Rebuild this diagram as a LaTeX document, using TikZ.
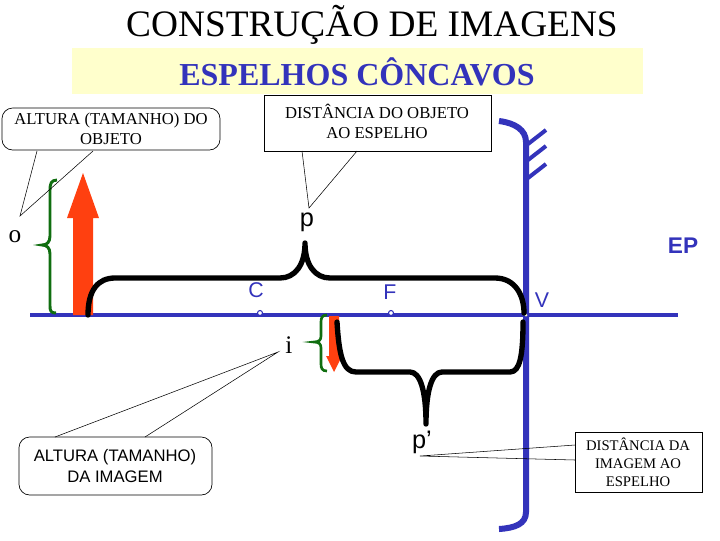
\documentclass[tikz,border=0pt]{standalone}
\usepackage{fontspec}
\setmainfont{Liberation Serif}
\setsansfont{Liberation Sans}
\begin{document}
\begin{tikzpicture}[x=0.75pt,y=-0.75pt,
  callout/.style={draw=black,fill=white,line width=0.5pt},
  ptr/.style={draw=black,line width=0.4pt},
  lbl/.style={text=mblue,font=\sffamily\fontsize{16}{16}\selectfont}]
\definecolor{mblue}{RGB}{51,51,187}
\definecolor{mred}{RGB}{255,64,16}
\definecolor{mgreen}{RGB}{16,110,16}
\definecolor{myel}{RGB}{255,255,204}
\useasboundingbox (0,0) rectangle (720,540);
% title
\node (title) at (372,25) {\fontsize{28}{28}\selectfont CONSTRUÇÃO DE IMAGENS};
\fill[myel] (72,48) rectangle (643,94);
\node[text=mblue] (sub) at (357,72) {\fontsize{24}{24}\selectfont\bfseries ESPELHOS CÔNCAVOS};
% axis
\draw[mblue,line width=2.5pt] (30,315) -- (678,315);
% mirror
\draw[mblue,line width=4.5pt] (499,121) .. controls (515,123) and (526,130) .. (526,142) -- (526,512) .. controls (526,524) and (515,528) .. (499,529);
\foreach \y in {144,160,178} \draw[mblue,line width=3pt] (528,\y) -- (546,\y-14);
% labels
\node[lbl,font=\sffamily\bfseries\fontsize{17}{17}\selectfont] (ep) at (683,246) {EP};
\node[lbl] (v) at (542,300) {V};
\node[lbl] (c) at (256,290) {C};
\node[lbl] (f) at (390,292) {F};
\draw[mblue,line width=0.8pt,fill=white] (260,313) circle (2.5);
\draw[mblue,line width=0.8pt,fill=white] (391,313) circle (2.5);
\fill[myel] (526,315) circle (1.5);
% object arrow
\fill[mred] (73,315) -- (73,218) -- (67,218) -- (83,173) -- (99,218) -- (93,218) -- (93,315) -- cycle;
% object green brace
\draw[mgreen,line width=2.2pt] (57,180) .. controls (51,180) and (50,184) .. (50,190) -- (50,236) .. controls (50,242) and (47,245) .. (42,245) .. controls (47,245) and (50,248) .. (50,254) -- (50,306) .. controls (50,311) and (51,313) .. (56,313);
\node (o) at (15,237) {\fontsize{19}{19}\selectfont o};
% p brace
\draw[line width=4pt,line cap=round,line join=round] (88,315) .. controls (88,290) and (98,278) .. (115,278) -- (280,278) .. controls (295,278) and (305,265) .. (305,243) .. controls (305,265) and (315,278) .. (330,278) -- (495,278) .. controls (515,278) and (524,295) .. (524,313);
\node[font=\sffamily\fontsize{19}{19}\selectfont] (p) at (307,222) {p};
% image arrow
\fill[mred] (329,316) -- (339,316) -- (339,356) -- (342,356) -- (334,372) -- (326,356) -- (329,356) -- cycle;
\draw[mgreen,line width=2pt] (327,315) .. controls (322,315) and (321,318) .. (321,322) -- (321,336) .. controls (321,340) and (319,342) .. (314,342) .. controls (319,342) and (321,344) .. (321,348) -- (321,364) .. controls (321,368) and (322,371) .. (327,371);
\node (i) at (289,345) {\fontsize{19}{19}\selectfont i};
% p' brace
\draw[line width=4pt,line cap=round,line join=round] (337,322) .. controls (339,355) and (343,372) .. (356,372) -- (410,372) .. controls (420,372) and (426,390) .. (426,424) .. controls (426,390) and (432,372) .. (442,372) -- (510,372) .. controls (520,372) and (523,355) .. (523,322);
\node[font=\sffamily\fontsize{19}{19}\selectfont] (pp) at (422,442) {p’};
% callout 1
\draw[callout,rounded corners=8pt] (2,108) rectangle (220,150);
\node[align=center,font=\fontsize{12.5}{15}\selectfont] (c1) at (111,129) {ALTURA (TAMANHO) DO\\OBJETO};
\coordinate (t1) at (20,216);
\draw[ptr] (37,151) -- (t1) -- (93,151);
% callout 2
\draw[callout] (264,95) rectangle (491,151);
\node[align=center,font=\fontsize{12.5}{15}\selectfont] (c2) at (377,121) {DISTÂNCIA DO OBJETO\\AO ESPELHO};
\coordinate (t2) at (309,208);
\draw[ptr] (302,151) -- (t2) -- (357,151);
% callout 3
\draw[callout,rounded corners=8pt] (19,437) rectangle (212,495);
\node[align=center,font=\sffamily\fontsize{12.5}{16}\selectfont] (c3) at (115,466) {ALTURA (TAMANHO)\\DA IMAGEM};
\coordinate (t3) at (278,352);
\draw[ptr] (55,437) -- (t3) -- (145,437);
% callout 4
\draw[callout] (575,432) rectangle (702,492);
\node[align=center,font=\fontsize{11}{13.5}\selectfont] (c4) at (638,462) {DISTÂNCIA DA\\IMAGEM AO\\ESPELHO};
\coordinate (t4) at (420,456);
\draw[ptr] (575,445) -- (t4) -- (575,460);
\end{tikzpicture}
\end{document}
